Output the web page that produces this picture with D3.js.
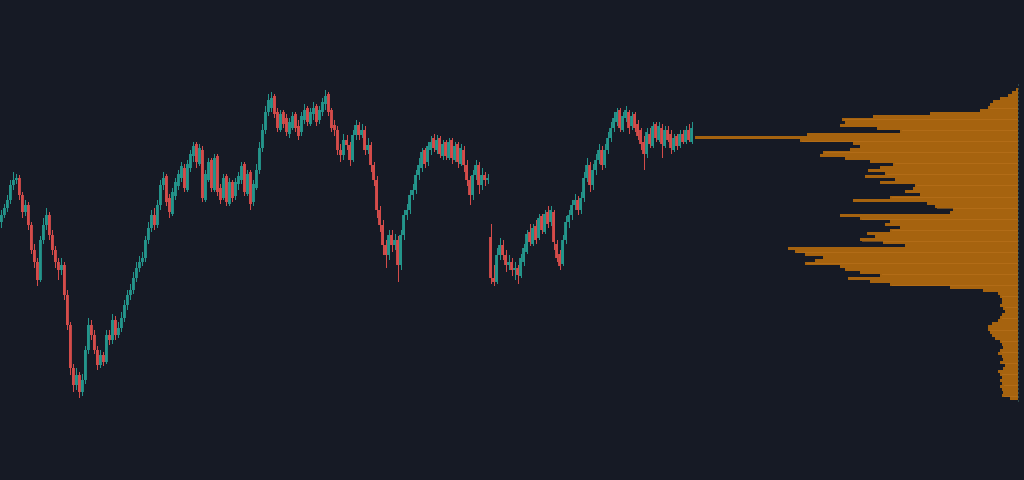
<!DOCTYPE html>
<html><head><meta charset="utf-8">
<script src="https://cdn.jsdelivr.net/npm/d3@7"></script>
<style>html,body{margin:0;padding:0;background:#161a25;overflow:hidden}</style>
</head><body><svg id="c" width="1024" height="480"></svg>
<script>
const opens = [
258,265,272,280,295,300,302,285,268,275,
255,230,218,200,240,255,265,245,230,218,
210,215,185,155,112,95,105,88,100,130,
155,145,130,115,125,118,145,140,160,145,
152,162,175,185,190,202,212,218,222,240,
252,265,255,275,295,304,282,266,284,294,
302,312,290,312,324,336,316,330,280,300,
320,290,324,292,282,304,276,298,284,296,
300,316,286,308,278,292,310,332,350,368,
372,384,368,350,368,362,346,352,366,354,
348,360,372,356,366,374,360,368,376,386,
370,355,350,330,325,340,335,320,345,355,
345,350,330,335,315,300,270,255,235,225,
245,235,240,215,245,265,270,285,290,305,
312,330,318,330,342,330,342,324,338,322,
340,320,336,316,330,315,300,285,305,315,
295,305,300,243,202,198,225,235,225,215,
218,210,212,204,218,228,248,236,254,242,
264,248,268,258,268,236,226,216,240,258,
265,275,280,270,282,302,315,295,310,320,
330,315,330,342,352,358,370,350,362,368,
354,366,356,350,338,326,346,334,356,340,
352,334,350,346,330,344,334,346,338,350,
338];
const highs = [
270,276,285,300,308,306,305,288,280,278,
258,236,222,244,262,272,268,250,234,222,
222,218,190,158,116,112,108,106,134,162,
160,150,134,130,128,150,150,166,164,158,
168,180,190,196,208,218,224,228,244,258,
270,272,280,300,308,306,286,292,302,310,
318,316,320,330,338,338,336,334,310,322,
322,326,326,296,306,306,302,300,302,308,
318,318,310,310,300,316,338,356,374,386,
388,386,372,370,370,366,362,368,368,360,
368,376,374,372,378,376,374,382,390,388,
372,360,354,336,346,345,338,350,360,358,
356,354,342,338,318,304,274,260,240,250,
250,246,244,250,270,276,290,296,310,322,
332,332,338,344,346,345,344,340,340,342,
342,338,338,336,334,320,304,310,320,318,
312,308,306,256,215,232,242,240,230,225,
222,218,215,226,236,250,256,256,260,266,
266,270,274,274,270,240,230,245,264,270,
280,286,284,288,308,322,318,316,326,336,
334,336,348,358,368,372,372,368,374,370,
368,368,360,352,344,352,352,358,358,358,
356,354,354,350,346,346,350,350,354,356,
358];
const lows = [
252,262,268,276,290,296,280,262,264,250,
226,212,194,198,236,250,240,225,212,200,
205,180,150,105,88,90,82,84,96,126,
140,126,110,112,114,116,135,136,140,142,
148,158,170,180,186,198,208,214,218,236,
248,250,252,270,290,274,262,264,280,290,
298,288,288,308,318,312,314,278,278,298,
288,288,284,276,280,274,274,278,280,290,
296,284,284,270,274,290,306,328,346,364,
368,362,348,348,352,344,342,350,348,340,
344,356,354,354,360,354,356,364,370,364,
348,344,325,318,320,330,314,318,340,340,
342,325,326,308,294,262,248,225,212,220,
228,230,198,210,240,260,266,280,286,300,
308,312,314,325,328,326,322,320,320,320,
316,318,312,314,308,294,275,280,300,286,
290,294,296,196,194,196,220,220,208,210,
204,200,196,202,214,226,234,234,236,240,
246,246,252,254,230,218,210,214,236,252,
260,270,265,266,278,298,288,290,305,316,
310,312,326,338,348,354,348,348,358,346,
350,348,340,330,310,322,332,332,338,338,
322,332,338,326,328,330,332,336,336,338,
336];
const closes = [
265,272,280,295,300,302,285,268,275,255,
230,218,200,240,255,265,245,230,218,210,
215,185,155,112,95,105,88,100,130,155,
145,130,115,125,118,145,140,160,145,152,
162,175,185,190,202,212,218,222,240,252,
265,255,275,295,302,278,268,288,298,306,
314,292,316,326,334,318,332,282,306,318,
292,322,288,280,302,278,298,282,298,304,
314,288,306,276,296,310,332,350,368,380,
382,366,352,366,356,348,358,364,352,344,
364,370,358,368,372,358,370,378,384,368,
352,350,330,325,340,335,320,345,355,345,
350,330,335,315,300,270,255,235,225,245,
235,240,215,245,265,270,285,290,305,315,
328,316,334,338,332,340,326,336,324,338,
322,334,318,332,315,300,285,305,315,295,
305,300,302,202,198,225,235,225,215,218,
210,212,205,222,232,246,238,252,240,262,
250,266,256,270,238,222,214,240,258,265,
275,280,270,282,302,315,295,310,320,330,
315,330,342,352,362,368,352,364,370,352,
364,352,344,336,326,348,336,354,342,354,
336,350,340,332,342,334,346,338,350,340,
352];
// volume profile, from lowest price bin to highest
const profileStart = 80, profileStep = 3;
const profileVolumes = [
8,16,15,16,18,16,18,16,18,20,
15,13,18,15,16,20,18,15,16,18,
23,26,28,30,30,26,20,18,16,13,
15,18,16,16,18,20,35,68,128,148,
170,138,158,173,178,213,203,195,213,223,
230,113,135,158,143,151,128,118,133,128,
158,178,68,65,83,91,165,128,98,113,
105,103,138,123,153,133,150,138,125,148,
173,198,195,168,158,165,218,323,211,118,
141,178,173,176,145,88,38,30,28,25,
18,10,6,2];

const W = 1024, H = 480;
const svg = d3.select('#c');
svg.append('rect').attr('width', W).attr('height', H).attr('fill', '#161a25');

const y = d3.scaleLinear().domain([0, 480]).range([480, 0]);
const x = d3.scaleBand().domain(d3.range(closes.length)).range([0, 693]).paddingInner(0.04);

// volume profile
const profRight = 1018;
const xv = d3.scaleLinear().domain([0, d3.max(profileVolumes)]).range([0, 323]);
const bins = profileVolumes.map((v, k) => ({v, lo: profileStart + k * profileStep, hi: profileStart + (k + 1) * profileStep}));
const gp = svg.append('g');
gp.selectAll('rect').data(bins).join('rect')
  .attr('x', d => profRight - xv(d.v))
  .attr('y', d => y(d.hi))
  .attr('width', d => xv(d.v))
  .attr('height', d => y(d.lo) - y(d.hi))
  .attr('fill', '#a6630f')
  .attr('shape-rendering', 'crispEdges');
// faint row lines over the profile
const rowLevels = d3.range(0, 27).map(k => 84 + 11.08 * k);
gp.selectAll('line.row').data(rowLevels).join('line')
  .attr('class', 'row')
  .attr('x1', p => { const b = bins[Math.min(bins.length - 1, Math.max(0, Math.floor((p - profileStart) / profileStep)))]; return profRight - xv(b.v) + 2; })
  .attr('x2', profRight)
  .attr('y1', p => Math.round(y(p)) + 0.5).attr('y2', p => Math.round(y(p)) + 0.5)
  .attr('stroke', '#bd7520').attr('stroke-opacity', 0.5).attr('stroke-width', 1);
svg.append('line').attr('x1', profRight + 0.5).attr('x2', profRight + 0.5).attr('y1', 84).attr('y2', 402)
  .attr('stroke', '#2e4a4c').attr('stroke-width', 1).attr('stroke-dasharray', '2,2');

// candles
const candles = closes.map((c, i) => ({i, o: opens[i], h: highs[i], l: lows[i], c}));
const up = '#26a69a', down = '#ef5350';
const g = svg.append('g');
const cg = g.selectAll('g').data(candles).join('g').attr('opacity', 0.88);
cg.append('line')
  .attr('x1', d => Math.round(x(d.i) + x.bandwidth() / 2) + 0.5)
  .attr('x2', d => Math.round(x(d.i) + x.bandwidth() / 2) + 0.5)
  .attr('y1', d => y(d.h)).attr('y2', d => y(d.l))
  .attr('stroke', d => d.c >= d.o ? up : down).attr('stroke-width', 1);
cg.append('rect')
  .attr('x', d => x(d.i))
  .attr('y', d => y(Math.max(d.o, d.c)))
  .attr('width', x.bandwidth())
  .attr('height', d => Math.max(1, Math.abs(y(d.o) - y(d.c))))
  .attr('fill', d => d.c >= d.o ? up : down);
</script></body></html>
